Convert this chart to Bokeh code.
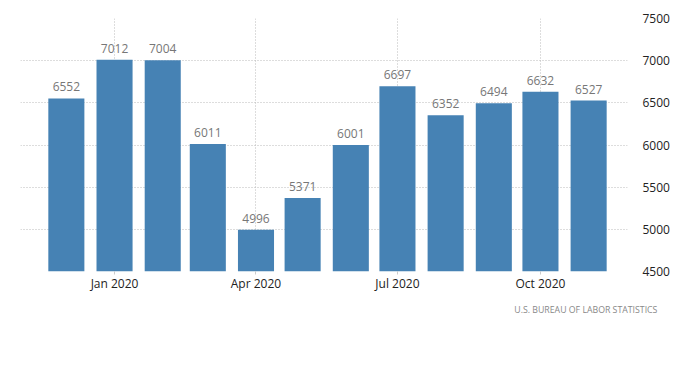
from datetime import datetime
from bokeh.plotting import figure
from bokeh.models import ColumnDataSource, FixedTicker, DatetimeTickFormatter, Range1d, Title
from bokeh.core.properties import value
from bokeh.embed import file_html
from bokeh.resources import INLINE

months = ["2019-12-01", "2020-01-01", "2020-02-01", "2020-03-01", "2020-04-01", "2020-05-01",
          "2020-06-01", "2020-07-01", "2020-08-01", "2020-09-01", "2020-10-01", "2020-11-01"]
values = [6552, 7012, 7004, 6011, 4996, 5371, 6001, 6697, 6352, 6494, 6632, 6527]
x_tick_dates = ["2020-01-01", "2020-04-01", "2020-07-01", "2020-10-01"]
y_ticks = [4500, 5000, 5500, 6000, 6500, 7000, 7500]
source_text = "U.S.  BUREAU  OF  LABOR  STATISTICS"

FONT = "Open Sans"
DAY = 86400000.0

dates = [datetime.strptime(m, "%Y-%m-%d") for m in months]
src = ColumnDataSource(dict(x=dates, top=values, label=[str(v) for v in values]))

def ms(d):
    return (datetime.strptime(d, "%Y-%m-%d") - datetime(1970, 1, 1)).total_seconds() * 1000.0

x_start = ms("2019-12-01") - 29.5 * DAY
x_end = ms("2020-11-01") + 25.0 * DAY

p = figure(x_axis_type="datetime", output_backend="svg", toolbar_location=None,
           frame_width=607, frame_height=253,
           x_range=Range1d(x_start, x_end), y_range=Range1d(y_ticks[0], y_ticks[-1]),
           y_axis_location="right", min_border_left=20, min_border_top=18,
           min_border_right=24, min_border_bottom=10)
p.outline_line_color = None
p.background_fill_color = "white"
p.border_fill_color = "white"

p.vbar(x="x", top="top", bottom=y_ticks[0], width=23.2 * DAY, source=src,
       fill_color="#4682B4", line_color=None)
p.text(x="x", y="top", text="label", source=src, text_align="center", text_baseline="bottom",
       y_offset=-7, text_font=value(FONT), text_font_size="12px", text_color="#777777")

xa = p.xaxis[0]
xa.ticker = FixedTicker(ticks=[ms(d) for d in x_tick_dates])
xa.formatter = DatetimeTickFormatter(days="%b %Y", months="%b %Y", years="%b %Y")
xa.axis_line_color = None
xa.major_tick_line_color = "#cccccc"
xa.major_tick_out = 3
xa.major_tick_in = 0
xa.minor_tick_line_color = None
xa.major_label_text_font = FONT
xa.major_label_text_font_size = "12px"
xa.major_label_text_color = "#222222"
xa.major_label_standoff = 0

ya = p.yaxis[0]
ya.ticker = FixedTicker(ticks=y_ticks)
ya.axis_line_color = None
ya.major_tick_line_color = None
ya.minor_tick_line_color = None
ya.major_label_text_font = FONT
ya.major_label_text_font_size = "12px"
ya.major_label_text_color = "#222222"
ya.major_label_standoff = 9

for g in (p.xgrid[0], p.ygrid[0]):
    g.grid_line_color = "#bbbbbb"
    g.grid_line_dash = "1 2"
    g.grid_line_width = 1
p.xgrid[0].ticker = xa.ticker
p.ygrid[0].ticker = ya.ticker

p.add_layout(Title(text=source_text, align="right", text_font=FONT, text_font_size="8.75px",
                   text_color="#888888", text_font_style="normal", offset=-39, standoff=14), "below")

open("out.html", "w").write(file_html(p, INLINE))
